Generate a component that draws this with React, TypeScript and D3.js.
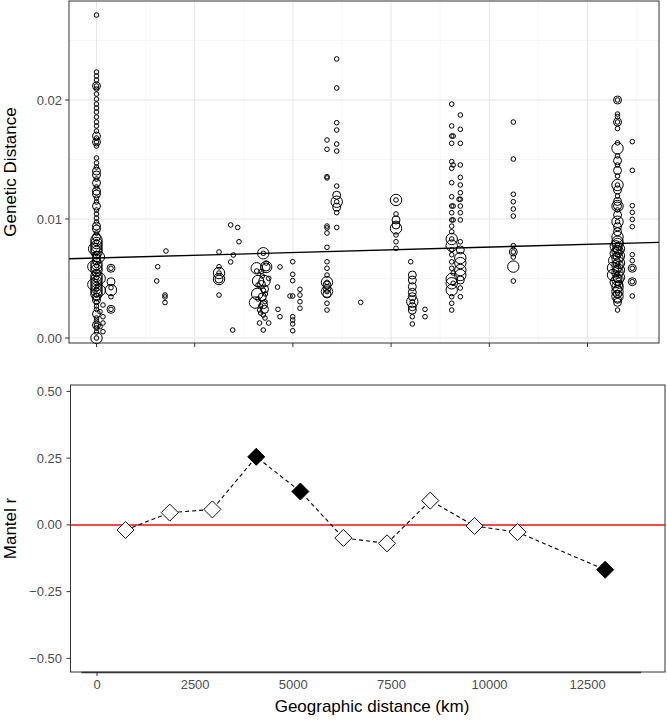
import * as d3 from 'd3'

// [distance km, genetic distance, size class]
type Pair = [number, number, number]

const pairsNear0: Pair[] = [
  [0, 0.02714, 1], [0, 0.02235, 1], [0, 0.02202, 1], [0, 0.02168, 1], [0, 0.02118, 2], [0, 0.02118, 1],
  [0, 0.02092, 1], [0, 0.0205, 1], [0, 0.02008, 1], [0, 0.01966, 1], [0, 0.01933, 1], [0, 0.01899, 1],
  [0, 0.01857, 1], [0, 0.01815, 1], [0, 0.01782, 1], [0, 0.01739, 1], [0, 0.01697, 2], [0, 0.01681, 1],
  [0, 0.01647, 2], [0, 0.01647, 1], [0, 0.01613, 1], [0, 0.01513, 1], [0, 0.01471, 1], [0, 0.01437, 1],
  [0, 0.01403, 2], [0, 0.0137, 2], [0, 0.01336, 1], [0, 0.01303, 2], [0, 0.01269, 1], [0, 0.01235, 2],
  [0, 0.0121, 2], [0, 0.01176, 1], [0, 0.01143, 1], [0, 0.01109, 2], [0, 0.01076, 1], [0, 0.01042, 1],
  [0, 0.01008, 1], [0, 0.00975, 1], [0, 0.00941, 2], [0, 0.00916, 2], [0, 0.00882, 1], [0, 0.00849, 2],
  [0, 0.00824, 3], [0, 0.00798, 3], [0, 0.00773, 3], [0, 0.00748, 3], [0, 0.00723, 3], [0, 0.00697, 2],
  [0, 0.00672, 2], [0, 0.00647, 2], [0, 0.00622, 3], [0, 0.00597, 3], [0, 0.00571, 3], [0, 0.00546, 2],
  [0, 0.00521, 3], [0, 0.00496, 3], [0, 0.00471, 3], [0, 0.00445, 3], [0, 0.0042, 3], [0, 0.00395, 3],
  [0, 0.0037, 3], [0, 0.00345, 2], [0, 0.00319, 2], [0, 0.00298, 1], [0, 0.00269, 1], [0, 0.00241, 1],
  [0, 0.00202, 2], [0, 0.00168, 1], [0, 0.00143, 1], [0, 0.00109, 2], [0, 0.00109, 1], [0, 0.00084, 1],
  [0, 0.0005, 1], [0, 0.0, 3], [0, 0.0, 1],
  [0, 0.0081, 1], [0, 0.0071, 1], [0, 0.0061, 1], [0, 0.0051, 1], [0, 0.0041, 1], [0, 0.0036, 1],
  [-80, 0.006, 3], [80, 0.005, 3], [-80, 0.0045, 3], [80, 0.004, 3], [-60, 0.0075, 3], [60, 0.0068, 3],
  [369, 0.00586, 2], [369, 0.00586, 1], [369, 0.00473, 2], [369, 0.00423, 1], [369, 0.00403, 3],
  [369, 0.00347, 1], [369, 0.00241, 2], [369, 0.00241, 1],
  [165, 0.00277, 1], [165, 0.00179, 1], [165, 0.00126, 1], [165, 0.00053, 1], [90, 0.00221, 1], [90, 0.00095, 1],
]

const pairsMid: Pair[] = [
  [1769, 0.00731, 1], [1558, 0.00599, 1], [1533, 0.00479, 1], [1744, 0.00361, 1], [1744, 0.00345, 1], [1744, 0.00298, 1],
  [3119, 0.00723, 1], [3119, 0.00599, 1], [3119, 0.00546, 3], [3119, 0.00546, 1], [3119, 0.00496, 3],
  [3119, 0.00496, 2], [3119, 0.00361, 1],
  [3416, 0.0095, 1], [3595, 0.00929, 1], [3628, 0.00809, 1], [3483, 0.00697, 1], [3416, 0.00639, 1], [3467, 0.00067, 1],
  [4246, 0.00712, 3], [4246, 0.00712, 1], [4320, 0.0063, 1], [4320, 0.00597, 3], [4320, 0.00597, 2],
  [4078, 0.00586, 3], [4078, 0.00563, 1], [4220, 0.00521, 1], [4112, 0.00479, 3], [4277, 0.00479, 3],
  [4112, 0.00445, 1], [4277, 0.00412, 2], [4090, 0.0037, 3], [4220, 0.00345, 2], [4112, 0.00328, 1],
  [4290, 0.00305, 1], [4035, 0.00298, 3], [4180, 0.00269, 1], [4277, 0.00241, 2], [4150, 0.00235, 1],
  [4246, 0.00193, 1], [4290, 0.00168, 1], [4150, 0.00126, 1], [4384, 0.00126, 1], [4246, 0.00067, 1],
  [4200, 0.0056, 1], [4250, 0.004, 1], [4200, 0.0045, 2], [4300, 0.0037, 1], [4250, 0.0028, 2], [4180, 0.0021, 1],
  [4384, 0.00501, 1],
  [4672, 0.00597, 1], [4608, 0.00428, 1], [4620, 0.00241, 1], [4672, 0.00179, 1],
  [4995, 0.00641, 1], [4995, 0.00535, 1], [4995, 0.00482, 1], [4995, 0.00353, 1], [4926, 0.00353, 1],
  [4995, 0.00179, 1], [4995, 0.00151, 1], [4995, 0.00118, 1], [4995, 0.00061, 1],
  [5180, 0.00409, 1], [5180, 0.00361, 1], [5180, 0.00305, 1], [5180, 0.0025, 1],
]

const pairsFar: Pair[] = [
  [5868, 0.01664, 1], [5868, 0.01586, 1], [5868, 0.01356, 1], [5868, 0.01345, 1], [5868, 0.00941, 1],
  [5868, 0.00925, 1], [5868, 0.00882, 1], [5868, 0.00762, 1], [5868, 0.00641, 1], [5868, 0.00586, 1],
  [5868, 0.00529, 1], [5868, 0.00468, 3], [5868, 0.00468, 1], [5868, 0.00445, 2], [5868, 0.00418, 2],
  [5868, 0.0039, 3], [5868, 0.0039, 1], [5868, 0.0037, 2], [5868, 0.00292, 1], [5868, 0.00235, 1],
  [6115, 0.02345, 1], [6115, 0.02101, 1], [6115, 0.01809, 1], [6115, 0.01748, 1], [6115, 0.0163, 1],
  [6115, 0.01571, 1], [6115, 0.01277, 1], [6115, 0.012, 2], [6115, 0.01145, 3], [6115, 0.01145, 1],
  [6115, 0.011, 2], [6115, 0.01053, 1], [6115, 0.00929, 1],
  [6726, 0.003, 1],
  [7625, 0.0116, 3], [7625, 0.0116, 1], [7625, 0.01042, 1], [7625, 0.00992, 2], [7625, 0.0095, 2],
  [7625, 0.00922, 3], [7625, 0.00866, 1], [7625, 0.00809, 1], [7625, 0.00754, 1],
  [7999, 0.00641, 1], [8040, 0.00529, 2], [8040, 0.00487, 2], [8040, 0.00431, 2], [8040, 0.00384, 2],
  [8040, 0.00347, 2], [8040, 0.00305, 3], [8040, 0.00305, 1], [8040, 0.00263, 2], [8040, 0.00235, 2],
  [8040, 0.00179, 1], [8040, 0.00118, 1], [8363, 0.00241, 1], [8363, 0.00179, 1],
]

const pairsFar2: Pair[] = [
  [9043, 0.01966, 1], [9043, 0.01782, 1], [9043, 0.01697, 1], [9080, 0.01697, 1], [9043, 0.01636, 1],
  [9043, 0.01482, 1], [9080, 0.01454, 1], [9043, 0.01426, 1], [9043, 0.01305, 1], [9043, 0.01187, 1],
  [9043, 0.01109, 1], [9080, 0.01109, 1], [9043, 0.01053, 1], [9043, 0.00992, 1], [9080, 0.00992, 1],
  [9043, 0.0094, 1], [9043, 0.00893, 1], [9043, 0.00832, 3], [9043, 0.00832, 1], [9043, 0.00776, 3],
  [9043, 0.0074, 1], [9043, 0.007, 1], [9043, 0.0064, 1], [9043, 0.00586, 1], [9080, 0.00546, 1],
  [9043, 0.00496, 3], [9043, 0.0046, 3], [9080, 0.0046, 1], [9043, 0.00403, 3], [9043, 0.00347, 1],
  [9043, 0.00292, 1], [9043, 0.00235, 1],
  [9262, 0.01874, 1], [9262, 0.01754, 1], [9262, 0.01636, 1], [9262, 0.01454, 1], [9262, 0.0135, 1],
  [9262, 0.01286, 1], [9262, 0.01221, 1], [9262, 0.01166, 1], [9230, 0.01166, 1], [9262, 0.01109, 1],
  [9262, 0.01053, 1], [9262, 0.00992, 1], [9262, 0.00809, 1], [9262, 0.0074, 2], [9262, 0.00672, 3],
  [9262, 0.0063, 3], [9262, 0.00571, 3], [9262, 0.00529, 3], [9262, 0.00487, 2], [9262, 0.0042, 1],
  [9262, 0.00347, 1],
  [10611, 0.01815, 1], [10611, 0.01504, 1], [10611, 0.01208, 1], [10611, 0.01145, 1], [10611, 0.01084, 1],
  [10611, 0.01025, 1], [10611, 0.00776, 1], [10611, 0.00723, 2], [10611, 0.00723, 1], [10611, 0.0068, 1],
  [10611, 0.006, 3], [10611, 0.00479, 1],
]

const pairsFarthest: Pair[] = [
  [13264, 0.02, 2], [13264, 0.02, 1], [13264, 0.01882, 1], [13264, 0.0186, 1], [13264, 0.01815, 2],
  [13264, 0.01815, 1], [13264, 0.0176, 1], [13264, 0.0164, 1], [13264, 0.01594, 3], [13264, 0.0153, 1],
  [13264, 0.0149, 2], [13264, 0.01454, 1], [13264, 0.01408, 2], [13264, 0.01361, 1], [13264, 0.01286, 3],
  [13264, 0.01286, 1], [13264, 0.01244, 2], [13264, 0.01193, 1], [13264, 0.01147, 2], [13264, 0.01109, 3],
  [13264, 0.01109, 2], [13264, 0.01076, 1], [13264, 0.01034, 2], [13264, 0.00977, 3], [13264, 0.00977, 1],
  [13264, 0.00935, 2], [13264, 0.00893, 2], [13264, 0.00849, 3], [13264, 0.00809, 3],
  [13264, 0.0079, 3], [13220, 0.0077, 3], [13300, 0.0075, 3], [13264, 0.0073, 3], [13220, 0.0071, 3],
  [13300, 0.0069, 3], [13264, 0.0067, 3], [13180, 0.0065, 3], [13300, 0.0063, 3], [13264, 0.0061, 3],
  [13150, 0.0059, 3], [13300, 0.0057, 3], [13264, 0.0055, 3], [13150, 0.0053, 3], [13300, 0.0051, 3],
  [13264, 0.0049, 3], [13220, 0.0047, 3], [13300, 0.0045, 2], [13264, 0.0043, 3], [13264, 0.0041, 2],
  [13264, 0.0039, 3], [13264, 0.0037, 2], [13264, 0.0035, 3],
  [13264, 0.0078, 1], [13264, 0.007, 1], [13264, 0.0062, 1], [13264, 0.0054, 1], [13264, 0.0046, 1],
  [13264, 0.0038, 1], [13264, 0.0074, 2], [13264, 0.0058, 2], [13264, 0.005, 2],
  [13264, 0.00325, 2], [13264, 0.003, 2], [13264, 0.00235, 1],
  [13640, 0.0165, 1], [13640, 0.01409, 1], [13640, 0.01112, 1], [13640, 0.01056, 1], [13640, 0.00997, 1],
  [13640, 0.00935, 1], [13640, 0.007, 1], [13640, 0.0065, 1], [13640, 0.00586, 2], [13640, 0.00586, 1],
  [13640, 0.00473, 2], [13640, 0.00473, 1], [13640, 0.00353, 1],
]

const fitIntercept = 0.00672
const fitSlope = 9.2e-8

const mantelDist = [726, 1853, 2940, 4057, 5181, 6276, 7388, 8490, 9618, 10713, 12945]
const mantelR = [-0.019, 0.046, 0.058, 0.255, 0.125, -0.049, -0.069, 0.091, -0.004, -0.027, -0.168]
const mantelSig = [false, false, false, true, true, false, false, false, false, false, true]

const distTicks = [0, 2500, 5000, 7500, 10000, 12500]
const distMinor = [1250, 3750, 6250, 8750, 11250, 13750]
const gdTicks = [0, 0.01, 0.02]
const gdMinor = [0.005, 0.015, 0.025]
const mantelTicks = [-0.5, -0.25, 0, 0.25, 0.5]

const radius: Record<number, number> = { 1: 2.3, 2: 4, 3: 5.7 }
const FONT = '"Liberation Sans", Arial, Helvetica, sans-serif'

export default function App() {
  const allPairs = [...pairsNear0, ...pairsMid, ...pairsFar, ...pairsFar2, ...pairsFarthest]

  const xTop = d3.scaleLinear().domain([-700, 14320]).range([69, 659])
  const yTop = d3.scaleLinear().domain([-0.00042, 0.02832]).range([343, 1])
  const xBot = d3.scaleLinear().domain([-675, 14470]).range([70.5, 665])
  const yBot = d3.scaleLinear().domain([-0.551, 0.524]).range([672, 385])

  const [tx0, tx1] = xTop.domain()
  const mantel = mantelDist.map((d, i) => ({ d, r: mantelR[i], sig: mantelSig[i] }))
  const line = d3.line<{ d: number; r: number }>().x((p) => xBot(p.d)).y((p) => yBot(p.r))
  const diamond = d3.symbol().type(d3.symbolSquare).size(145)()

  return (
    <svg width={667} height={720} style={{ position: 'absolute', left: 0, top: 0, background: '#fff' }} fontFamily={FONT}>
      {/* top panel */}
      <rect x={69} y={1} width={590} height={342} fill="#fff" />
      {gdMinor.map((v) => (
        <line key={'gm' + v} x1={69} x2={659} y1={yTop(v)} y2={yTop(v)} stroke="#f2f2f2" strokeWidth={0.6} />
      ))}
      {distMinor.map((v) => (
        <line key={'dm' + v} x1={xTop(v)} x2={xTop(v)} y1={1} y2={343} stroke="#f2f2f2" strokeWidth={0.6} />
      ))}
      {gdTicks.map((v) => (
        <line key={'g' + v} x1={69} x2={659} y1={yTop(v)} y2={yTop(v)} stroke="#e6e6e6" strokeWidth={1} />
      ))}
      {distTicks.map((v) => (
        <line key={'d' + v} x1={xTop(v)} x2={xTop(v)} y1={1} y2={343} stroke="#e6e6e6" strokeWidth={1} />
      ))}
      {allPairs.map(([d, g, s], i) => (
        <circle key={i} cx={xTop(d)} cy={yTop(g)} r={radius[s]} fill="none" stroke="#000" strokeWidth={1} />
      ))}
      <line
        x1={xTop(tx0)} x2={xTop(tx1)}
        y1={yTop(fitIntercept + fitSlope * tx0)} y2={yTop(fitIntercept + fitSlope * tx1)}
        stroke="#000" strokeWidth={1.4}
      />
      <rect x={69} y={1} width={590} height={342} fill="none" stroke="#333" strokeWidth={1} />
      {gdTicks.map((v) => (
        <g key={'gt' + v}>
          <line x1={65} x2={69} y1={yTop(v)} y2={yTop(v)} stroke="#333" />
          <text x={62} y={yTop(v)} dy="0.35em" textAnchor="end" fontSize={13} fill="#4d4d4d">
            {d3.format('.2f')(v)}
          </text>
        </g>
      ))}
      {distTicks.map((v) => (
        <line key={'dt' + v} x1={xTop(v)} x2={xTop(v)} y1={343} y2={347} stroke="#333" />
      ))}
      <text transform={`translate(16,${(1 + 343) / 2}) rotate(-90)`} textAnchor="middle" fontSize={17} fill="#000">
        Genetic Distance
      </text>

      {/* bottom panel */}
      <line x1={70.5} x2={665} y1={yBot(0)} y2={yBot(0)} stroke="#ee1111" strokeWidth={1.5} />
      <path d={line(mantel) || ''} fill="none" stroke="#000" strokeWidth={1.1} strokeDasharray="4,3" />
      {mantel.map((p, i) => (
        <path
          key={'m' + i}
          d={diamond || ''}
          transform={`translate(${xBot(p.d)},${yBot(p.r)}) rotate(45)`}
          fill={p.sig ? '#000' : '#fff'}
          stroke="#000"
          strokeWidth={0.9}
        />
      ))}
      <rect x={70.5} y={385} width={594.5} height={287} fill="none" stroke="#333" strokeWidth={1} />
      <line x1={xBot(-400)} x2={xBot(13860)} y1={672.5} y2={672.5} stroke="#333" strokeWidth={1.6} />
      {mantelTicks.map((v) => (
        <g key={'mt' + v}>
          <line x1={66.5} x2={70.5} y1={yBot(v)} y2={yBot(v)} stroke="#333" />
          <text x={62} y={yBot(v)} dy="0.35em" textAnchor="end" fontSize={13} fill="#4d4d4d">
            {d3.format('.2f')(v).replace('-', '\u2212')}
          </text>
        </g>
      ))}
      <line x1={xBot(0)} x2={xBot(0)} y1={672} y2={676} stroke="#333" />
      {distTicks.map((v) => (
        <text key={'dl' + v} x={xBot(v)} y={689} textAnchor="middle" fontSize={13} fill="#4d4d4d">
          {v}
        </text>
      ))}
      <text transform={`translate(16,${(385 + 672) / 2}) rotate(-90)`} textAnchor="middle" fontSize={17} fill="#000">
        Mantel r
      </text>
      <text x={372} y={712} textAnchor="middle" fontSize={17} fill="#000">
        Geographic distance (km)
      </text>
    </svg>
  )
}
